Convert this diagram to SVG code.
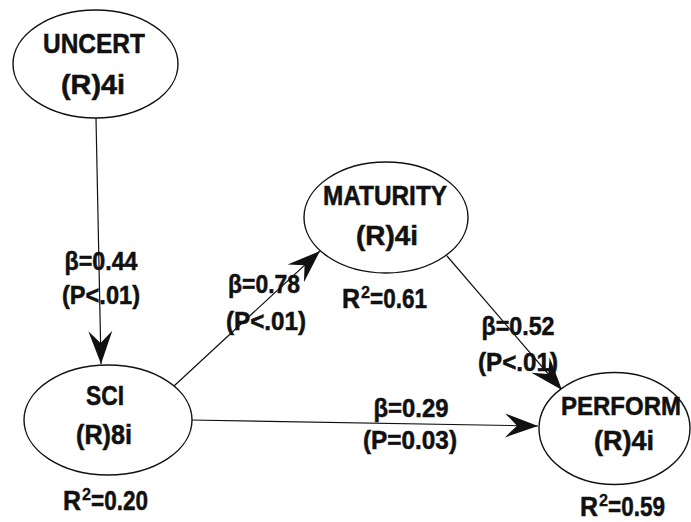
<svg xmlns="http://www.w3.org/2000/svg" width="691" height="522" viewBox="0 0 691 522">
<style>
.node{fill:#fff;stroke:#111;stroke-width:1.4}
.t{font-family:"Liberation Sans",Arial,sans-serif;font-weight:bold;fill:#111;stroke:#111;stroke-width:0.5;text-anchor:middle}
.s{text-anchor:start}
.n{font-size:27px}
.l{font-size:25px}
.sup{font-size:16px;stroke-width:0.3}
.c{stroke:#111;stroke-width:1.2;fill:none}
</style>
<defs>
<marker id="ah" viewBox="-34 -13 35 26" markerWidth="35" markerHeight="26" refX="0" refY="0" orient="auto" markerUnits="userSpaceOnUse">
<path d="M0,0 L-33,-12 L-21,0 L-33,12 Z" fill="#111"/>
</marker>
</defs>
<rect width="691" height="522" fill="#fff"/>
<g id="connectors">
<line class="c" x1="96" y1="118" x2="101" y2="364" marker-end="url(#ah)"/>
<line class="c" x1="174" y1="386" x2="320" y2="251" marker-end="url(#ah)"/>
<line class="c" x1="190" y1="420" x2="538" y2="426" marker-end="url(#ah)"/>
<line class="c" x1="447" y1="256" x2="562" y2="390" marker-end="url(#ah)"/>
</g>
<g id="labels">
<text class="t l" x="101" y="270" textLength="73" lengthAdjust="spacingAndGlyphs">β=0.44</text>
<text class="t l" x="101" y="304" textLength="78" lengthAdjust="spacingAndGlyphs">(P&lt;.01)</text>
<text class="t l" x="264" y="293" textLength="72" lengthAdjust="spacingAndGlyphs">β=0.78</text>
<text class="t l" x="266" y="330" textLength="80" lengthAdjust="spacingAndGlyphs">(P&lt;.01)</text>
<text class="t l" x="518" y="335" textLength="73" lengthAdjust="spacingAndGlyphs">β=0.52</text>
<text class="t l" x="518" y="371" textLength="80" lengthAdjust="spacingAndGlyphs">(P&lt;.01)</text>
<text class="t l" x="411" y="417" textLength="75" lengthAdjust="spacingAndGlyphs">β=0.29</text>
<text class="t l" x="410" y="449" textLength="94" lengthAdjust="spacingAndGlyphs">(P=0.03)</text>
</g>
<g id="UNCERT">
<ellipse class="node" cx="95.5" cy="64" rx="82.5" ry="54"/>
<text class="t n" x="94" y="53" textLength="102" lengthAdjust="spacingAndGlyphs">UNCERT</text>
<text class="t n" x="93" y="94" textLength="64" lengthAdjust="spacingAndGlyphs">(R)4i</text>
</g>
<g id="MATURITY">
<ellipse class="node" cx="386" cy="217.5" rx="82" ry="55.5"/>
<text class="t n" x="385" y="205" textLength="124" lengthAdjust="spacingAndGlyphs">MATURITY</text>
<text class="t n" x="387" y="245" textLength="62" lengthAdjust="spacingAndGlyphs">(R)4i</text>
<text class="t n s" x="342" y="308" textLength="18" lengthAdjust="spacingAndGlyphs">R</text>
<text class="t sup s" x="361" y="298" textLength="9" lengthAdjust="spacingAndGlyphs">2</text>
<text class="t n s" x="370" y="308" textLength="57" lengthAdjust="spacingAndGlyphs">=0.61</text>
</g>
<g id="SCI">
<ellipse class="node" cx="108" cy="420" rx="84" ry="55"/>
<text class="t n" x="105" y="405" textLength="38" lengthAdjust="spacingAndGlyphs">SCI</text>
<text class="t n" x="104" y="444" textLength="56" lengthAdjust="spacingAndGlyphs">(R)8i</text>
<text class="t n s" x="63" y="510" textLength="18" lengthAdjust="spacingAndGlyphs">R</text>
<text class="t sup s" x="82" y="500" textLength="9" lengthAdjust="spacingAndGlyphs">2</text>
<text class="t n s" x="91" y="510" textLength="57" lengthAdjust="spacingAndGlyphs">=0.20</text>
</g>
<g id="PERFORM">
<ellipse class="node" cx="614.5" cy="428.5" rx="75.5" ry="56"/>
<text class="t" x="621" y="415" font-size="25" textLength="120" lengthAdjust="spacingAndGlyphs">PERFORM</text>
<text class="t n" x="624" y="450" textLength="60" lengthAdjust="spacingAndGlyphs">(R)4i</text>
<text class="t n s" x="580" y="516" textLength="18" lengthAdjust="spacingAndGlyphs">R</text>
<text class="t sup s" x="599" y="506" textLength="9" lengthAdjust="spacingAndGlyphs">2</text>
<text class="t n s" x="608" y="516" textLength="57" lengthAdjust="spacingAndGlyphs">=0.59</text>
</g>
</svg>
